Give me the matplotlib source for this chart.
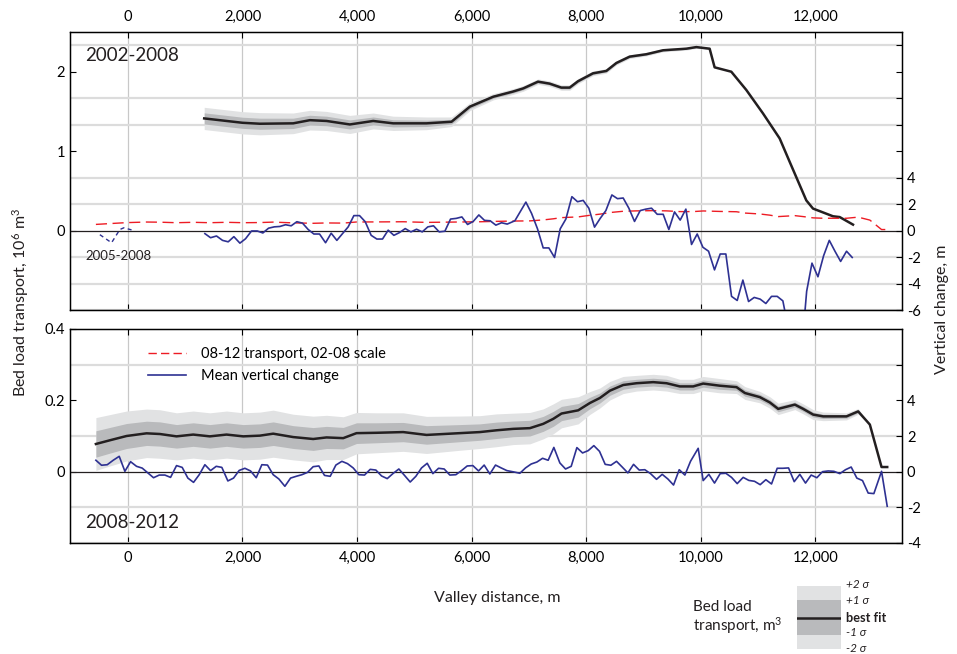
import numpy as np
import matplotlib
matplotlib.use('Agg')
import matplotlib.pyplot as plt
from matplotlib.lines import Line2D

plt.rcParams['font.family'] = ['Lato', 'DejaVu Sans']
plt.rcParams['mathtext.fontset'] = 'custom'
plt.rcParams['mathtext.rm'] = 'Lato'
plt.rcParams['mathtext.it'] = 'Lato:italic'

# ---- 2002-2008 bed load transport (10^6 m3), best fit and 1 sigma
dist_0208 = [1332, 1722, 2001, 2304, 2885, 3176, 3467, 3874, 4281, 4630, 5212, 5648,
             5968, 6376, 6720, 6900, 7157, 7360, 7564, 7710, 7855, 8117, 8350, 8525,
             8757, 9048, 9340, 9746, 9921, 10153, 10240, 10531, 10793, 11084, 11375,
             11550, 11840, 11957, 12306, 12423, 12655]
trans_0208 = [1.412, 1.38, 1.357, 1.345, 1.35, 1.39, 1.38, 1.336, 1.38, 1.35, 1.35, 1.37,
              1.56, 1.685, 1.75, 1.79, 1.875, 1.85, 1.80, 1.80, 1.88, 1.98, 2.01, 2.11,
              2.19, 2.22, 2.27, 2.29, 2.31, 2.29, 2.055, 2.0, 1.77, 1.475, 1.16,
              0.865, 0.38, 0.277, 0.18, 0.17, 0.075]
sigma_0208 = [0.07, 0.07, 0.07, 0.07, 0.065, 0.062, 0.06, 0.057, 0.05, 0.045, 0.04, 0.03,
              0.025, 0.02, 0.018, 0.018, 0.017, 0.017, 0.017, 0.017, 0.016, 0.015, 0.014, 0.013,
              0.012, 0.011, 0.01, 0.009, 0.008, 0.006, 0.0, 0.0, 0.0, 0.0, 0.0,
              0.0, 0.0, 0.0, 0.0, 0.0, 0.0]

# ---- 2002-2008 mean vertical change (m)
dist_dz_0208 = [1344, 1443, 1547, 1652, 1751, 1850, 1955, 2053, 2158, 2257, 2356, 2455,
                2554, 2653, 2751, 2850, 2949, 3048, 3147, 3246, 3345, 3450, 3548, 3647,
                3746, 3845, 3944, 4043, 4142, 4246, 4345, 4444, 4543, 4642, 4741, 4840,
                4939, 5038, 5137, 5235, 5334, 5433, 5532, 5631, 5730, 5829, 5928, 6027,
                6125, 6224, 6323, 6422, 6521, 6620, 6754, 6946, 7045, 7149, 7248, 7347,
                7446, 7545, 7644, 7749, 7847, 7946, 8045, 8144, 8243, 8342, 8447, 8545,
                8644, 8743, 8842, 8941, 9040, 9139, 9238, 9342, 9441, 9540, 9639, 9738,
                9837, 9936, 10035, 10134, 10238, 10337, 10436, 10535, 10634, 10733, 10832,
                10931, 11035, 11134, 11233, 11332, 11431, 11530, 11630, 11740, 11846,
                11939, 12043, 12142, 12241, 12340, 12439, 12542, 12641]
dz_0208 = [-0.23, -0.54, -0.41, -0.74, -0.85, -0.46, -0.95, -0.62, -0.03, -0.03, -0.18, 0.18,
           0.28, 0.31, 0.44, 0.36, 0.67, 0.56, 0.08, -0.26, -0.26, -0.92, -0.2, -0.74,
           -0.23, 0.28, 1.13, 1.13, 0.67, -0.36, -0.64, -0.64, 0.03, -0.36, -0.15, 0.15,
           -0.1, 0.1, -0.1, 0.28, 0.36, -0.1, -0.05, 0.87, 0.92, 1.03, 0.46, 0.69,
           1.18, 0.77, 0.74, 0.41, 0.59, 0.49, 0.74, 2.15, 1.3, 0.13, -1.31, -1.31,
           -2.03, 0.13, 0.87, 2.56, 2.18, 2.28, 1.69, 0.26, 0.92, 1.51, 2.69, 2.41,
           2.46, 1.69, 0.69, 1.51, 1.62, 1.69, 1.23, 1.23, 0.08, 1.41, 0.79, 1.62,
           -1.05, -0.26, -1.26, -1.56, -2.97, -1.77, -1.77, -4.97, -5.28, -3.74, -5.36,
           -5.05, -5.18, -5.51, -4.97, -4.97, -5.31, -7.5, -9.0, -10.0, -4.59,
           -2.46, -3.49, -1.9, -0.74, -1.56, -2.33, -1.56, -2.03]

# ---- 2005-2008 mean vertical change (m)
dist_dz_0508 = [-489, -285, -140, -70, 64]
dz_0508 = [-0.31, -0.92, 0.08, 0.21, 0.05]

# ---- 2008-2012 bed load transport (10^6 m3), best fit and 1 sigma
dist_0812 = [-558, -314, -23, 326, 558, 849, 1140, 1431, 1722, 2013, 2304, 2536, 2885,
             3234, 3467, 3758, 3990, 4339, 4805, 5212, 5794, 6143, 6434, 6725, 7016,
             7248, 7423, 7568, 7859, 8063, 8237, 8412, 8644, 8877, 9168, 9401, 9633,
             9866, 10040, 10331, 10622, 10768, 11029, 11204, 11349, 11640, 11786, 11960,
             12134, 12541, 12745, 12949, 13153, 13252]
trans_0812 = [0.0776, 0.088, 0.1, 0.1075, 0.1056, 0.099, 0.104, 0.099, 0.104, 0.099, 0.101,
              0.1065, 0.097, 0.0916, 0.096, 0.094, 0.108, 0.109, 0.111, 0.103, 0.108, 0.111,
              0.116, 0.12, 0.122, 0.134, 0.148, 0.163, 0.172, 0.1925, 0.2065, 0.227, 0.243,
              0.248, 0.251, 0.248, 0.239, 0.239, 0.247, 0.241, 0.237, 0.2205, 0.209, 0.194,
              0.176, 0.188, 0.176, 0.16, 0.155, 0.155, 0.169, 0.132, 0.013, 0.013]
sigma_0812 = [0.037, 0.036, 0.035, 0.034, 0.034, 0.033, 0.033, 0.033, 0.033, 0.033, 0.033,
              0.033, 0.032, 0.032, 0.031, 0.03, 0.029, 0.028, 0.027, 0.026, 0.024, 0.023,
              0.023, 0.022, 0.022, 0.021, 0.021, 0.02, 0.019, 0.016, 0.014, 0.013, 0.012,
              0.011, 0.011, 0.011, 0.01, 0.01, 0.01, 0.01, 0.009, 0.009, 0.008, 0.008,
              0.008, 0.007, 0.007, 0.007, 0.006, 0.005, 0.004, 0.0, 0.0, 0.0]

# ---- 2008-2012 mean vertical change (m)
dist_dz_0812 = [-558, -460, -360, -256, -151, -52, 47, 151, 250, 349, 448, 547, 646, 745,
                849, 948, 1047, 1146, 1245, 1344, 1443, 1542, 1640, 1745, 1844, 1943, 2042,
                2141, 2240, 2338, 2437, 2536, 2635, 2740, 2839, 2938, 3037, 3135, 3234, 3333,
                3432, 3531, 3630, 3735, 3833, 3932, 4031, 4130, 4229, 4328, 4427, 4526, 4625,
                4729, 4828, 4927, 5026, 5125, 5224, 5323, 5422, 5520, 5619, 5724, 5823, 5922,
                6021, 6120, 6218, 6317, 6416, 6515, 6614, 6742, 6841, 6940, 7039, 7138, 7237,
                7335, 7434, 7539, 7638, 7737, 7836, 7935, 8034, 8132, 8231, 8330, 8429, 8528,
                8627, 8726, 8825, 8924, 9022, 9121, 9226, 9325, 9424, 9523, 9622, 9721, 9819,
                9953, 10040, 10139, 10238, 10337, 10436, 10535, 10634, 10738, 10837, 10936,
                11035, 11134, 11233, 11332, 11431, 11530, 11629, 11727, 11826, 11925, 12024,
                12123, 12222, 12321, 12425, 12524, 12623, 12722, 12821, 12920, 13019, 13153,
                13252]
dz_0812 = [0.64, 0.36, 0.39, 0.64, 0.86, 0.02, 0.56, 0.3, 0.2, -0.07, -0.34, -0.19, -0.19,
           -0.32, 0.34, 0.24, -0.36, -0.6, -0.17, 0.39, 0.06, 0.3, 0.24, -0.52, -0.36, 0.07,
           0.19, 0.04, -0.34, 0.39, 0.37, -0.17, -0.41, -0.82, -0.36, -0.26, -0.17, -0.04,
           0.28, 0.32, -0.21, -0.26, 0.37, 0.58, 0.45, 0.21, -0.17, -0.19, 0.13, 0.09, -0.24,
           -0.39, -0.11, 0.15, -0.21, -0.58, -0.26, 0.21, 0.47, -0.11, 0.19, 0.15, -0.19,
           -0.17, 0.06, 0.32, 0.34, 0.04, 0.37, -0.13, 0.37, 0.21, 0.06, -0.02, -0.09, 0.21,
           0.43, 0.54, 0.75, 0.64, 1.36, 0.49, 0.15, 0.3, 1.35, 1.05, 1.18, 1.46, 1.14, 0.41,
           0.36, 0.58, 0.26, -0.07, 0.41, 0.09, 0.11, -0.11, -0.43, -0.15, -0.41, -0.75, 0.11,
           -0.19, 0.58, 1.31, -0.5, -0.15, -0.64, -0.11, -0.09, -0.32, -0.67, -0.32, -0.49,
           -0.54, -0.73, -0.45, -0.69, 0.19, 0.19, 0.21, -0.56, -0.15, -0.64, -0.19, -0.34,
           0.0, 0.04, 0.02, -0.11, 0.11, 0.26, -0.36, -0.5, -1.2, -1.23, 0.02, -1.94]

xticks = [0, 2000, 4000, 6000, 8000, 10000, 12000]
xticklabels = ['0', '2,000', '4,000', '6,000', '8,000', '10,000', '12,000']

BLUE = '#2e3192'
RED = '#ed1c24'
BLACK = '#231f20'
LIGHT = '#e1e2e3'
DARK = '#b9babc'
GRID_H = '#dcdcdc'
GRID_V = '#c8c8c8'


def draw_transport(ax, x, y, s):
    x = np.array(x); y = np.array(y); s = np.array(s)
    ax.fill_between(x, y - 2 * s, y + 2 * s, color=LIGHT, lw=0, zorder=2)
    ax.fill_between(x, y - s, y + s, color=DARK, lw=0, zorder=3)
    ax.plot(x, y, color=BLACK, lw=1.8, zorder=4)


def style(ax, ax2, labeltop):
    ax.set_xlim(-1010, 13510)
    ax.set_xticks(xticks)
    ax.set_xticklabels(xticklabels)
    ax.tick_params(axis='x', direction='in', top=True, bottom=True, length=4,
                   labeltop=labeltop, labelbottom=not labeltop, labelsize=10.5, pad=6)
    ax.tick_params(axis='y', which='major', direction='in', length=4, labelsize=10.5, right=False)
    ax.tick_params(axis='y', which='minor', length=0)
    ax.grid(axis='x', which='major', color=GRID_V, lw=0.9, zorder=0)
    ax.grid(axis='y', which='minor', color=GRID_H, lw=1.6, zorder=0)
    ax.axhline(0, color=BLACK, lw=0.9, zorder=5)
    ax2.tick_params(axis='y', direction='in', length=4, labelsize=10.5)
    for sp in ax.spines.values():
        sp.set_linewidth(1.0)


fig = plt.figure(figsize=(9.57, 6.54), dpi=100)
ax_top = fig.add_axes([70 / 957, 1 - 310 / 654, 832 / 957, 278 / 654])
ax_bot = fig.add_axes([70 / 957, 1 - 543 / 654, 832 / 957, 214 / 654])

# ---------------- top panel
draw_transport(ax_top, dist_0208, trans_0208, sigma_0208)
ax_top.plot(dist_0812, trans_0812, color=RED, lw=1.0, dashes=(8, 4), zorder=4)
ax_top.set_ylim(-1, 2.5)
ax_top.set_yticks([0, 1, 2])
ax_top.set_yticklabels(['0', '1', '2'])
ax_top.set_yticks(np.arange(-1, 2.4, 1 / 3), minor=True)
ax2_top = ax_top.twinx()
ax2_top.plot(dist_dz_0208, dz_0208, color=BLUE, lw=1.2)
ax2_top.plot(dist_dz_0508, dz_0508, color=BLUE, lw=1.0, dashes=(3, 2.5))
ax2_top.set_ylim(-6, 15)
ax2_top.set_yticks(range(-6, 15, 2))
ax2_top.set_yticklabels([str(v) if v <= 4 else '' for v in range(-6, 15, 2)])
style(ax_top, ax2_top, True)
ax_top.text(0.018, 0.915, '2002-2008', transform=ax_top.transAxes, fontsize=13.5,
            color=BLACK, va='center')
ax_top.text(0.018, 0.195, '2005-2008', transform=ax_top.transAxes, fontsize=9.5,
            color=BLACK, va='center')

# ---------------- bottom panel
draw_transport(ax_bot, dist_0812, trans_0812, sigma_0812)
ax_bot.set_ylim(-0.2, 0.4)
ax_bot.set_yticks([0, 0.2, 0.4])
ax_bot.set_yticklabels(['0', '0.2', '0.4'])
ax_bot.set_yticks(np.arange(-0.2, 0.41, 0.1), minor=True)
ax2_bot = ax_bot.twinx()
ax2_bot.plot(dist_dz_0812, dz_0812, color=BLUE, lw=1.2)
ax2_bot.set_ylim(-4, 8)
ax2_bot.set_yticks(range(-4, 8, 2))
ax2_bot.set_yticklabels([str(v) if v <= 4 else '' for v in range(-4, 8, 2)])
style(ax_bot, ax2_bot, False)
ax_bot.text(0.018, 0.095, '2008-2012', transform=ax_bot.transAxes, fontsize=13.5,
            color=BLACK, va='center')
handles = [Line2D([], [], color=RED, lw=1.0, dashes=(6, 3)),
           Line2D([], [], color=BLUE, lw=1.2)]
ax2_bot.legend(handles, ['08-12 transport, 02-08 scale', 'Mean vertical change'],
               loc='upper left', bbox_to_anchor=(0.078, 0.975), frameon=False,
               fontsize=10.5, handlelength=2.6, handletextpad=1.0, labelspacing=0.55)

# ---------------- axis titles
fig.text(0.021, 0.538, 'Bed load transport, 10$^6$ m$^3$', rotation=90,
         ha='center', va='center', fontsize=11.5, color=BLACK)
fig.text(0.984, 0.527, 'Vertical change, m', rotation=90,
         ha='center', va='center', fontsize=11.5, color=BLACK)
fig.text(497 / 957, 1 - 598 / 654, 'Valley distance, m', ha='center', va='center',
         fontsize=11.5, color=BLACK)

# ---------------- band key
key = fig.add_axes([797 / 957, 1 - 649 / 654, 44 / 957, 63 / 654])
key.set_xlim(0, 1)
key.set_ylim(-2, 2)
key.axhspan(-2, 2, color=LIGHT, lw=0)
key.axhspan(-1.1, 1.1, color=DARK, lw=0)
key.axhline(0, color=BLACK, lw=1.8)
key.axis('off')
kx = 846 / 957
for lab, yy, kw in [('+2 σ', 585, dict(style='italic')), ('+1 σ', 600, dict(style='italic')),
                    ('best fit', 618, dict(weight='bold')), ('-1 σ', 633, dict(style='italic')),
                    ('-2 σ', 648, dict(style='italic'))]:
    fig.text(kx, 1 - yy / 654, lab, fontsize=8.5 if lab != 'best fit' else 9.2,
             va='center', ha='left', color=BLACK, **kw)
fig.text(693 / 957, 1 - 618 / 654, 'Bed load\ntransport, m$^3$', fontsize=11,
         va='center', ha='left', color=BLACK, linespacing=1.1)

fig.savefig('out.png', dpi=100)
